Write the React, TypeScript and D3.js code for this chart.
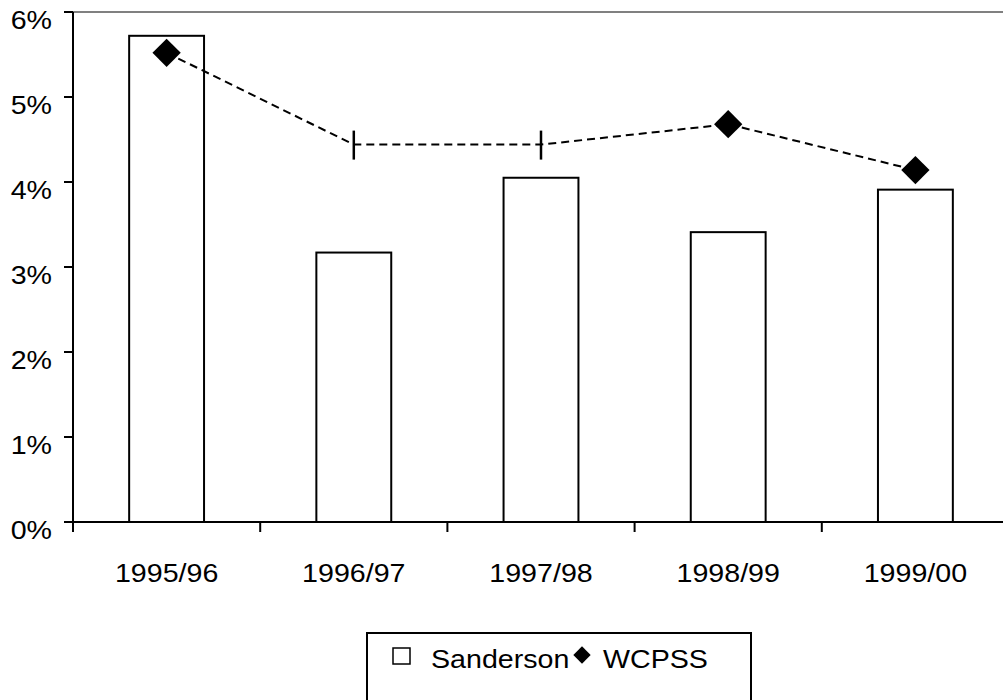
import * as d3 from "d3";

const categories = ["1995/96", "1996/97", "1997/98", "1998/99", "1999/00"];
const sanderson = [0.0572, 0.0317, 0.0405, 0.0341, 0.0391];
const wcpss = [0.0552, 0.0444, 0.0444, 0.0468, 0.0414];
// Excel left two of the markers as plain dashes
const wcpssMarker = ["diamond", "bar", "bar", "diamond", "diamond"];
const yTicks = [0, 0.01, 0.02, 0.03, 0.04, 0.05, 0.06];

const W = 1003;
const H = 700;
const left = 73;
const top = 12;
const bottom = 522;
const font = "'Liberation Sans', Arial, sans-serif";
const fs = 26;
const sx = 1.1; // the source text is a bit wider than plain Arial

type LabelProps = { x: number; y: number; anchor?: string; children: string };
const Label = ({ x, y, anchor = "start", children }: LabelProps) => (
  <text
    transform={`translate(${x},${y}) scale(${sx},1)`}
    textAnchor={anchor}
    fontFamily={font}
    fontSize={fs}
    fill="#000"
  >
    {children}
  </text>
);

const App = () => {
  const x = d3.scaleBand<string>().domain(categories).range([left, left + 936]);
  const y = d3.scaleLinear().domain([0, 0.06]).range([bottom, top]);
  const barW = x.bandwidth() * 0.4;
  const cx = (c: string) => (x(c) ?? 0) + x.bandwidth() / 2;

  const line = d3
    .line<number>()
    .x((_, i) => cx(categories[i]))
    .y((d) => y(d));

  const diamond = d3.symbol(d3.symbolSquare, 400)();
  const smallDiamond = d3.symbol(d3.symbolSquare, 150)();

  return (
    <div style={{ position: "absolute", left: 0, top: 0 }}>
      <svg width={W} height={H} style={{ display: "block", background: "#fff" }}>
        {/* top frame line */}
        <line x1={left} x2={W} y1={top} y2={top} stroke="#808080" strokeWidth={2} />

        {/* bars */}
        {categories.map((c, i) => (
          <rect
            key={c}
            x={cx(c) - barW / 2}
            y={y(sanderson[i])}
            width={barW}
            height={bottom - y(sanderson[i])}
            fill="#fff"
            stroke="#000"
            strokeWidth={2}
          />
        ))}

        {/* y axis */}
        <line x1={left} x2={left} y1={top} y2={bottom} stroke="#000" strokeWidth={2} />
        {yTicks.map((t) => (
          <g key={t}>
            <line x1={left - 9} x2={left} y1={y(t)} y2={y(t)} stroke="#000" strokeWidth={2} />
            <Label x={52} y={y(t) + 17} anchor="end">
              {d3.format(".0%")(t)}
            </Label>
          </g>
        ))}

        {/* x axis */}
        <line x1={left - 9} x2={W} y1={bottom} y2={bottom} stroke="#000" strokeWidth={2} />
        {categories.map((c) => (
          <line
            key={"t" + c}
            x1={x(c)}
            x2={x(c)}
            y1={bottom}
            y2={bottom + 10}
            stroke="#000"
            strokeWidth={2}
          />
        ))}
        {categories.map((c) => (
          <Label key={"l" + c} x={cx(c)} y={582} anchor="middle">
            {c}
          </Label>
        ))}

        {/* WCPSS line */}
        <path
          d={line(wcpss) ?? ""}
          fill="none"
          stroke="#000"
          strokeWidth={2}
          strokeDasharray="8,5"
        />
        {wcpss.map((v, i) =>
          wcpssMarker[i] === "diamond" ? (
            <path
              key={"m" + i}
              d={diamond ?? ""}
              transform={`translate(${cx(categories[i])},${y(v)}) rotate(45)`}
              fill="#000"
            />
          ) : (
            <line
              key={"m" + i}
              x1={cx(categories[i])}
              x2={cx(categories[i])}
              y1={y(v) - 14}
              y2={y(v) + 15}
              stroke="#000"
              strokeWidth={2.5}
            />
          )
        )}

        {/* legend */}
        <rect x={367} y={633} width={384} height={80} fill="#fff" stroke="#000" strokeWidth={2} />
        <rect x={393} y={648} width={17} height={16} fill="#fff" stroke="#000" strokeWidth={1.5} />
        <Label x={431} y={668}>Sanderson</Label>
        <path d={smallDiamond ?? ""} transform="translate(582,655) rotate(45)" fill="#000" />
        <Label x={603} y={668}>WCPSS</Label>
      </svg>
    </div>
  );
};

export default App;
